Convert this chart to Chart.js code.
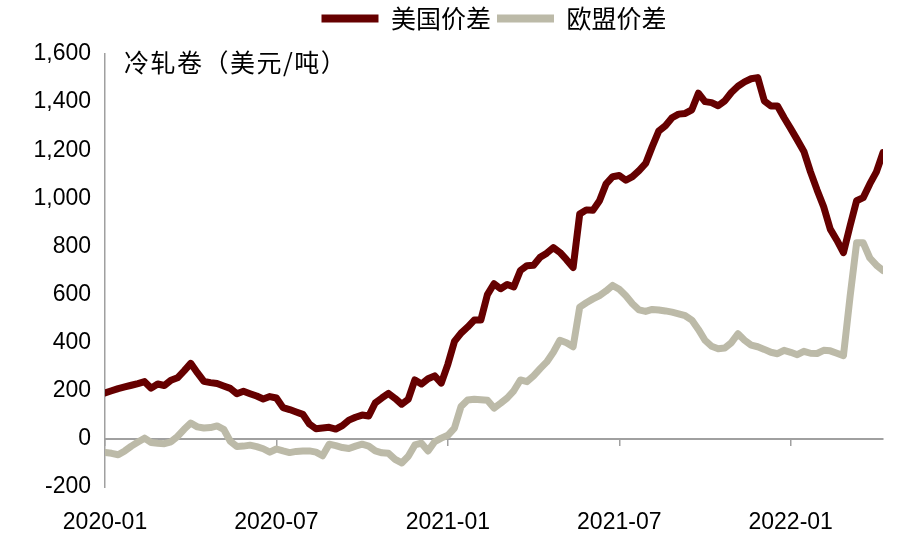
<!DOCTYPE html>
<html>
<head>
<meta charset="utf-8">
<script src="https://cdn.jsdelivr.net/npm/chart.js@4.4.1/dist/chart.umd.min.js"></script>
<style>
  body { margin: 0; background: #fff; }
</style>
</head>
<body>
<canvas id="spreadChart" width="912" height="537"></canvas>
<script>
// weekly cold-rolled coil spread (USD/t), first week of 2020 to early April 2022
const seriesNames = ['美国价差', '欧盟价差'];
const usSpread = [
  191, 200, 209, 216, 223, 230, 238, 211, 228, 222,
  244, 254, 283, 314, 275, 239, 234, 230, 220, 210,
  188, 198, 188, 178, 166, 176, 170, 130, 122, 112,
  102, 62, 42, 45, 48, 41, 55, 78, 90, 99,
  95, 150, 170, 189, 168, 144, 165, 245, 228, 250,
  262, 232, 310, 405, 440, 465, 494, 494, 600, 645,
  624, 642, 632, 700, 720, 722, 755, 772, 795, 775,
  745, 712, 935, 952, 950, 990, 1060, 1090, 1095, 1075,
  1090, 1115, 1145, 1215, 1280, 1302, 1335, 1350, 1353, 1368,
  1437, 1402, 1398, 1385, 1405, 1440, 1466, 1484, 1497, 1502,
  1405, 1384, 1384, 1335, 1290, 1243, 1195, 1110, 1035, 965,
  872, 826, 774, 885, 990, 1003, 1060, 1110, 1190
];
const euSpread = [
  -56, -60, -66, -50, -30, -13, 3, -15, -18, -20,
  -12, 10, 40, 66, 50, 45, 47, 54, 40, -10,
  -32, -30, -26, -32, -41, -55, -42, -50, -57, -52,
  -50, -50, -55, -70, -22, -28, -36, -40, -30, -22,
  -30, -50, -58, -60, -85, -100, -72, -25, -18, -50,
  -12, 3, 15, 45, 135, 162, 165, 163, 161, 128,
  148, 170, 200, 245, 238, 262, 292, 320, 360, 410,
  400, 383, 548, 566, 582, 596, 615, 638, 622, 595,
  562, 536, 530, 538, 536, 532, 527, 520, 512, 494,
  455, 410, 385, 375, 378, 400, 437, 410, 390, 383,
  372, 360, 354, 368, 360, 350, 364, 356, 355, 368,
  366, 356, 346, 590, 815, 815, 752, 722, 700
];
const weeks = usSpread.map((_, i) => i);
const tickWeeks = [0, 26, 52, 78, 104];
const tickLabels = ['2020-01', '2020-07', '2021-01', '2021-07', '2022-01'];
const unitLabel = '冷轧卷（美元/吨）';

const axisGray = '#a0a0a0';
const latin = '"Liberation Sans", Arial, sans-serif';
const cjk = '"Noto Sans CJK SC", sans-serif';

const setTicks = scale => { scale.ticks = tickWeeks.map(v => ({ value: v })); };

// unit note in the top-left corner of the plot
const unitNote = {
  id: 'unitNote',
  afterDraw(chart) {
    const { ctx, chartArea } = chart;
    ctx.save();
    ctx.font = '25px ' + cjk;
    ctx.letterSpacing = '1.5px';
    ctx.fillStyle = '#000';
    ctx.textBaseline = 'middle';
    ctx.fillText(unitLabel, chartArea.left + 19, chartArea.top + 8);
    ctx.restore();
  }
};

new Chart(document.getElementById('spreadChart'), {
  type: 'line',
  data: {
    datasets: [
      {
        label: seriesNames[0],
        data: weeks.map(i => ({ x: i, y: usSpread[i] })),
        borderColor: '#660000',
        backgroundColor: '#660000',
        borderWidth: 7,
        pointRadius: 0,
        borderJoinStyle: 'round',
        borderCapStyle: 'round'
      },
      {
        label: seriesNames[1],
        data: weeks.map(i => ({ x: i, y: euSpread[i] })),
        borderColor: '#bcbaa8',
        backgroundColor: '#bcbaa8',
        borderWidth: 7,
        pointRadius: 0,
        borderJoinStyle: 'round',
        borderCapStyle: 'round'
      }
    ]
  },
  options: {
    responsive: false,
    animation: false,
    layout: { padding: { left: 0, right: 29, top: 0, bottom: 0 } },
    plugins: {
      legend: {
        position: 'top',
        fullSize: false,
        labels: {
          font: { family: cjk, size: 25 },
          color: '#000',
          boxWidth: 57,
          boxHeight: 8,
          padding: 6,
          generateLabels: chart =>
            Chart.defaults.plugins.legend.labels.generateLabels(chart)
              .map(l => ({ ...l, fillStyle: l.strokeStyle, lineWidth: 0 }))
        }
      },
      // blank spacer between legend and plot
      subtitle: {
        display: true,
        text: '',
        weight: 500,
        font: { size: 1, lineHeight: 1 },
        padding: { top: 6, bottom: 6 }
      },
      tooltip: { enabled: false }
    },
    scales: {
      x: {
        type: 'linear',
        min: 0,
        max: weeks.length - 1,
        grid: { display: false },
        border: { display: false },
        afterBuildTicks: setTicks,
        afterFit: s => { s.height = 50; },
        ticks: {
          autoSkip: false,
          maxRotation: 0,
          padding: 14,
          color: '#000',
          font: { family: latin, size: 23 },
          callback: v => tickLabels[tickWeeks.indexOf(v)]
        }
      },
      xZero: {
        type: 'linear',
        min: 0,
        max: weeks.length - 1,
        position: { y: 0 },
        afterBuildTicks: setTicks,
        grid: { drawOnChartArea: false, tickLength: 6, color: axisGray, lineWidth: 1.5 },
        border: { color: axisGray, width: 2 },
        ticks: { display: false }
      },
      y: {
        min: -200,
        max: 1600,
        grid: { display: false },
        border: { color: axisGray, width: 1.5 },
        afterFit: s => { s.width = 105; },
        ticks: {
          stepSize: 200,
          padding: 6,
          color: '#000',
          font: { family: latin, size: 23 },
          callback: v => v.toLocaleString('en-US')
        }
      }
    }
  },
  plugins: [unitNote]
});
</script>
</body>
</html>
